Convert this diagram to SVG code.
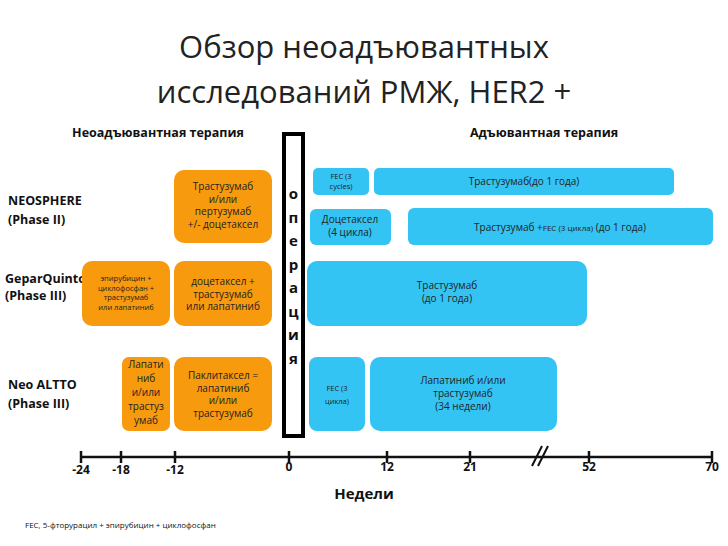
<svg xmlns="http://www.w3.org/2000/svg" width="728" height="546" viewBox="0 0 728 546">
<style>
text{font-family:"Open Sans","Noto Sans","Liberation Sans",sans-serif;}
.o{fill:#f79a0e;}
.b{fill:#33c4f3;}
.t{font-size:10px;fill:#222;text-anchor:middle;}
.s{font-size:7.5px;fill:#222;text-anchor:middle;}
.lbl{font-size:12.5px;font-weight:bold;fill:#111;}
.ax{font-size:12px;font-weight:bold;fill:#111;text-anchor:middle;}
</style>
<rect width="728" height="546" fill="#fff"/>
<text x="364" y="58" font-size="31" text-anchor="middle" fill="#222">Обзор неоадъювантных</text>
<text x="364" y="103" font-size="31" text-anchor="middle" fill="#222">исследований РМЖ, HER2 +</text>
<text x="158" y="137" class="lbl" font-size="11" text-anchor="middle">Неоадъювантная терапия</text>
<text x="544" y="137" class="lbl" font-size="11" text-anchor="middle">Адъювантная терапия</text>
<g id="trials">
<text x="8" y="205" class="lbl">NEOSPHERE</text>
<text x="8" y="224" class="lbl">(Phase II)</text>
<text x="5" y="283" class="lbl" font-size="11">GeparQuinto</text>
<text x="5" y="300" class="lbl" font-size="10">(Phase III)</text>
<text x="8" y="389" class="lbl">Neo ALTTO</text>
<text x="8" y="408" class="lbl">(Phase III)</text>
</g>
<g id="op">
<rect x="284" y="134" width="19" height="302" fill="#fff" stroke="#000" stroke-width="4"/>
<text x="293.5" y="199" font-size="15" font-weight="bold" text-anchor="middle" fill="#111"><tspan x="293.5">о</tspan><tspan x="293.5" dy="23.5">п</tspan><tspan x="293.5" dy="23.5">е</tspan><tspan x="293.5" dy="23.5">р</tspan><tspan x="293.5" dy="23.5">а</tspan><tspan x="293.5" dy="23.5">ц</tspan><tspan x="293.5" dy="23.5">и</tspan><tspan x="293.5" dy="23.5">я</tspan></text>
</g>
<g id="n1"><rect class="o" x="174" y="170" width="98" height="73" rx="10"/>
<text class="t" x="223" y="190"><tspan x="223">Трастузумаб</tspan><tspan x="223" dy="12.5">и/или</tspan><tspan x="223" dy="12.5">пертузумаб</tspan><tspan x="223" dy="12.5">+/- доцетаксел</tspan></text></g>
<g id="n2"><rect class="o" x="82" y="261" width="88" height="65" rx="10"/>
<text class="s" x="126" y="281"><tspan x="126">эпирубицин +</tspan><tspan x="126" dy="9.5">циклофосфан +</tspan><tspan x="126" dy="9.5">трастузумаб</tspan><tspan x="126" dy="9.5">или лапатиниб</tspan></text></g>
<g id="n3"><rect class="o" x="174" y="261" width="98" height="65" rx="10"/>
<text class="t" x="223" y="285"><tspan x="223">доцетаксел +</tspan><tspan x="223" dy="12.5">трастузумаб</tspan><tspan x="223" dy="12.5">или лапатиниб</tspan></text></g>
<g id="n4"><rect class="o" x="122" y="357" width="48" height="74" rx="7"/>
<text class="t" x="146" y="368"><tspan x="146">Лапати</tspan><tspan x="146" dy="14">ниб</tspan><tspan x="146" dy="14">и/или</tspan><tspan x="146" dy="14">трастуз</tspan><tspan x="146" dy="14">умаб</tspan></text></g>
<g id="n5"><rect class="o" x="174" y="357" width="98" height="74" rx="10"/>
<text class="t" x="223" y="379"><tspan x="223">Паклитаксел =</tspan><tspan x="223" dy="12.5">лапатиниб</tspan><tspan x="223" dy="12.5">и/или</tspan><tspan x="223" dy="12.5">трастузумаб</tspan></text></g>
<g id="b1"><rect class="b" x="313" y="168" width="56" height="27" rx="5"/>
<text class="s" x="341" y="179"><tspan x="341">FEC (3</tspan><tspan x="341" dy="10">cycles)</tspan></text></g>
<g id="b2"><rect class="b" x="374" y="168" width="300" height="27" rx="5"/>
<text class="t" font-size="11" x="524" y="185">Трастузумаб(до 1 года)</text></g>
<g id="b3"><rect class="b" x="310" y="209" width="81" height="36" rx="6"/>
<text class="t" x="350" y="223"><tspan x="350">Доцетаксел</tspan><tspan x="350" dy="12.5">(4 цикла)</tspan></text></g>
<g id="b4"><rect class="b" x="408" y="208" width="305" height="37" rx="6"/>
<text class="t" font-size="11" x="560" y="231">Трастузумаб +<tspan font-size="8">FEC (3 цикла)</tspan> (до 1 года)</text></g>
<g id="b5"><rect class="b" x="307" y="261" width="280" height="65" rx="10"/>
<text class="t" x="447" y="289"><tspan x="447">Трастузумаб</tspan><tspan x="447" dy="13">(до 1 года)</tspan></text></g>
<g id="b6"><rect class="b" x="309" y="357" width="56" height="74" rx="8"/>
<text class="s" font-size="9" x="337" y="391"><tspan x="337">FEC (3</tspan><tspan x="337" dy="12.5">цикла)</tspan></text></g>
<g id="b7"><rect class="b" x="370" y="357" width="187" height="74" rx="10"/>
<text class="t" x="463" y="384"><tspan x="463">Лапатиниб и/или</tspan><tspan x="463" dy="13">трастузумаб</tspan><tspan x="463" dy="13">(34 недели)</tspan></text></g>
<g id="connectors" stroke="#111" stroke-width="2.5" fill="none">
<path d="M81 457H712M81 451V463M121 451V463M175 451V463M289 451V463M387 451V463M470 451V463M589 451V463M712 451V463"/>
<path d="M532 466L542 446M538 466L548 446" stroke-width="2"/>
</g>
<g id="axis-labels">
<text class="ax" x="81" y="474">-24</text><text class="ax" x="121" y="474">-18</text><text class="ax" x="175" y="474">-12</text>
<text class="ax" x="289" y="471">0</text><text class="ax" x="387" y="471">12</text><text class="ax" x="470" y="471">21</text>
<text class="ax" x="589" y="471">52</text><text class="ax" x="712" y="471">70</text>
<text x="364" y="499" font-size="15" font-weight="bold" text-anchor="middle" fill="#111">Недели</text>
<text x="25" y="528" font-size="8" fill="#111">FEC, 5-фторурацил + эпирубицин + циклофосфан</text>
</g>
</svg>
